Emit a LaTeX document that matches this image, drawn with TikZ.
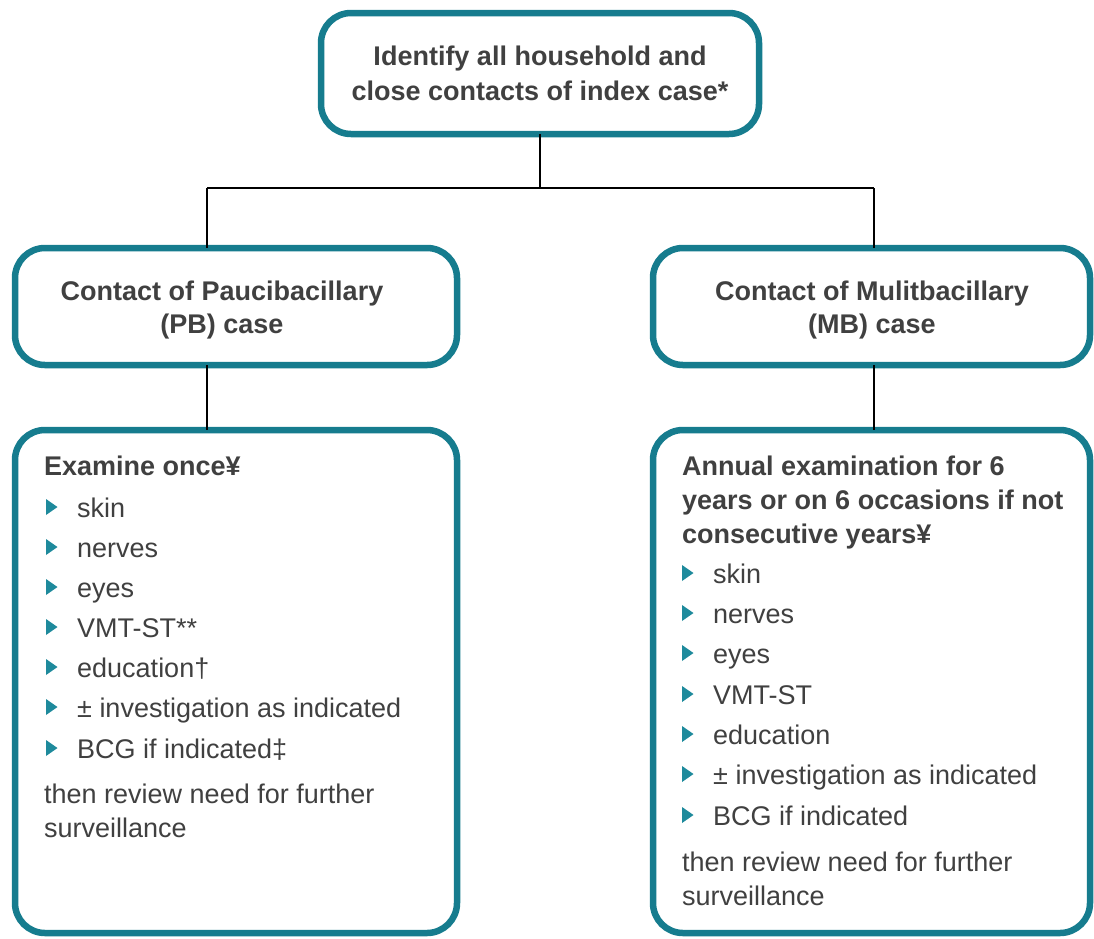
\documentclass[tikz,border=0pt]{standalone}
\usepackage{fontspec}
\setmainfont{Liberation Sans}
\definecolor{tealb}{HTML}{167C8E}
\definecolor{tealt}{HTML}{1E8A9C}
\definecolor{txt}{HTML}{404040}
\begin{document}
\begin{tikzpicture}[x=1pt,y=-1pt,
  box/.style={draw=tealb, line width=6.5pt, rounded corners=30pt, fill=white, inner sep=0pt, outer sep=0pt},
  conn/.style={draw=black, line width=1.4pt},
  hd/.style={font=\fontsize{27}{34}\selectfont\bfseries, text=txt, anchor=base, inner sep=0pt},
  bh/.style={font=\fontsize{27}{34}\selectfont\bfseries, text=txt, anchor=base west, inner sep=0pt},
  ln/.style={font=\fontsize{27}{34}\selectfont, text=txt, anchor=base west, inner sep=0pt},
  bul/.style={fill=tealt}]
\useasboundingbox (0,0) rectangle (1094,938);
% boxes
\node[box, minimum width=438pt, minimum height=121pt] (top) at (540,73.5) {};
\node[box, minimum width=442pt, minimum height=117pt] (pb) at (236,306.5) {};
\node[box, minimum width=437pt, minimum height=117pt] (mb) at (871.5,306.5) {};
\node[box, minimum width=442pt, minimum height=503pt] (pbd) at (236,681.5) {};
\node[box, minimum width=437pt, minimum height=503pt] (mbd) at (871.5,681.5) {};
% connectors
\coordinate (j) at (540,188);
\coordinate (jl) at (207,188);
\coordinate (jr) at (874,188);
\draw[conn] (top.south) -- (j);
\draw[conn] (jl) -- (jr);
\draw[conn] (jl) -- (jl |- pb.north);
\draw[conn] (jr) -- (jr |- mb.north);
\draw[conn] (pb.south -| jl) -- (pbd.north -| jl);
\draw[conn] (mb.south -| jr) -- (mbd.north -| jr);
% top text
\node[hd] (t1) at (540,65) {Identify all household and};
\node[hd] (t2) at (540,100) {close contacts of index case*};
% middle texts
\node[hd] (p1) at (222,300) {Contact of Paucibacillary};
\node[hd] (p2) at (222,333) {(PB) case};
\node[hd] (m1) at (872,300) {Contact of Mulitbacillary};
\node[hd] (m2) at (872,333) {(MB) case};
% left detail
\node[bh] (lh) at (44,475) {Examine once¥};
\foreach \y/\t [count=\i] in {517/skin, 557/nerves, 597/eyes, 637/VMT-ST**, 677/education†, 717/± investigation as indicated, 758/BCG if indicated‡}{
  \fill[bul] (46,\y-18) -- (57.5,\y-10) -- (46,\y-2) -- cycle;
  \node[ln] (l\i) at (77,\y) {\t};
}
\node[ln] (lr1) at (44,803) {then review need for further};
\node[ln] (lr2) at (44,837) {surveillance};
% right detail
\node[bh] (rh1) at (682,475) {Annual examination for 6};
\node[bh] (rh2) at (682,509) {years or on 6 occasions if not};
\node[bh] (rh3) at (682,543) {consecutive years¥};
\foreach \y/\t [count=\i] in {583/skin, 623/nerves, 663/eyes, 704/VMT-ST, 744/education, 784/± investigation as indicated, 825/BCG if indicated}{
  \fill[bul] (682,\y-18) -- (693.5,\y-10) -- (682,\y-2) -- cycle;
  \node[ln] (r\i) at (713,\y) {\t};
}
\node[ln] (rr1) at (682,871) {then review need for further};
\node[ln] (rr2) at (682,905) {surveillance};
\end{tikzpicture}
\end{document}
